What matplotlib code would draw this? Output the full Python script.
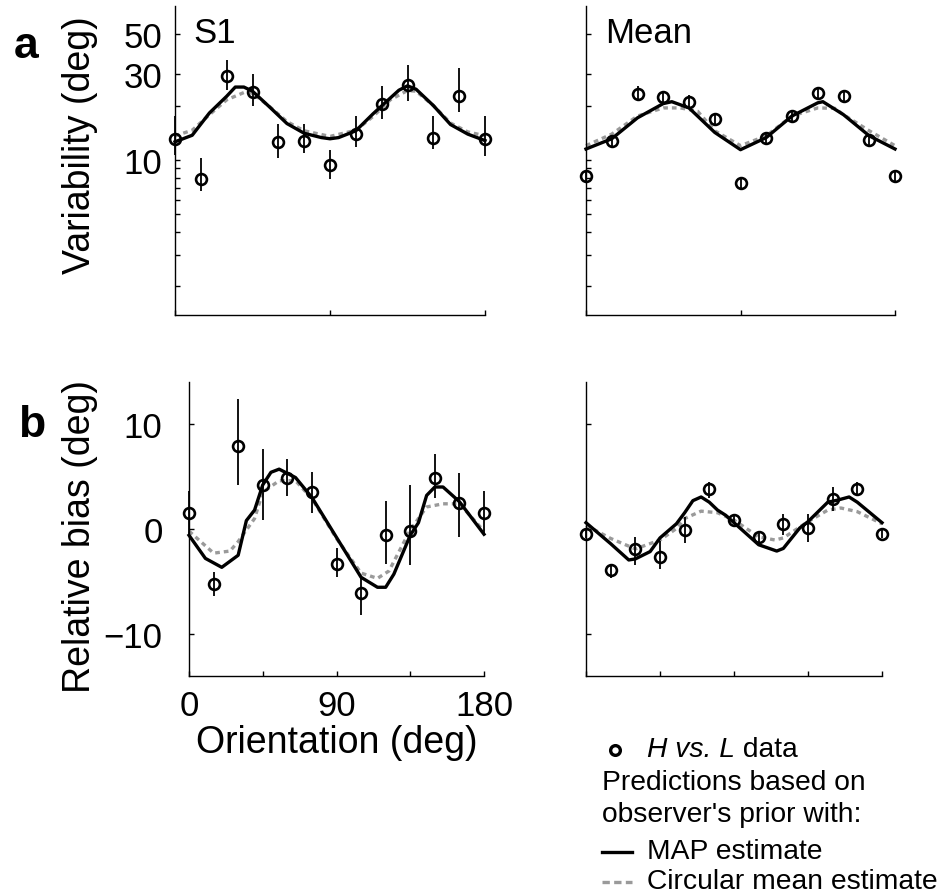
import numpy as np
import matplotlib
matplotlib.use("Agg")
import matplotlib.pyplot as plt
from matplotlib.lines import Line2D
from matplotlib.ticker import NullFormatter

plt.rcParams["font.family"] = ["Liberation Sans", "DejaVu Sans"]

# ── data ──────────────────────────────────────────────────────────────────────
ORIENT = [0, 15, 30, 45, 60, 75, 90, 105, 120, 135, 150, 165, 180]

# a) variability, subject S1
s1_var = [13.0, 7.9, 29.3, 23.8, 12.6, 12.7, 9.4, 14.0, 20.3, 26.1, 13.2, 22.5, 13.0]
s1_var_lo = [10.6, 6.7, 24.4, 20.0, 10.3, 10.9, 7.9, 11.8, 16.9, 21.1, 11.5, 18.4, 10.5]
s1_var_hi = [17.6, 10.3, 35.9, 29.9, 15.9, 15.9, 11.3, 17.6, 25.7, 33.7, 17.5, 32.1, 17.6]
s1_var_map_x = [0, 10, 20, 30, 35, 40, 45, 55, 65, 75, 85, 90, 95, 105, 115, 125,
                130, 135, 140, 150, 160, 170, 180]
s1_var_map = [12.6, 13.7, 18.2, 22.5, 25.3, 25.3, 24.0, 19.6, 15.9, 14.05, 13.3, 13.1,
              13.3, 14.5, 18.0, 22.0, 24.3, 25.7, 24.6, 20.0, 15.7, 13.9, 12.8]
s1_var_circ_x = [0, 10, 20, 30, 40, 45, 55, 65, 75, 90, 105, 115, 125, 135, 140, 150,
                 160, 170, 180]
s1_var_circ = [13.6, 14.6, 17.8, 21.5, 23.6, 23.4, 19.7, 16.3, 14.5, 13.5, 14.6, 17.4,
               21.5, 24.2, 24.0, 20.0, 16.0, 14.3, 13.6]

# a) variability, mean over subjects
mean_var = [8.2, 12.75, 23.2, 22.4, 21.0, 16.9, 7.46, 13.2, 17.5, 23.6, 22.6, 12.9, 8.2]
mean_var_lo = [7.7, 12.0, 21.7, 20.7, 19.6, 15.7, 7.0, 12.4, 16.4, 21.7, 20.7, 12.1, 7.7]
mean_var_hi = [8.7, 13.6, 25.7, 24.2, 22.9, 18.1, 7.9, 14.2, 18.8, 25.3, 24.2, 13.7, 8.7]
mean_var_map_x = [0, 15, 30, 45, 50, 60, 75, 90, 105, 120, 135, 138, 150, 165, 180]
mean_var_map = [11.5, 13.1, 17.1, 20.5, 21.0, 19.4, 14.2, 11.4, 13.3, 17.5, 20.7, 21.0,
                17.8, 13.6, 11.5]
mean_var_circ_x = [0, 15, 30, 45, 55, 65, 75, 90, 105, 120, 135, 145, 150, 165, 180]
mean_var_circ = [12.0, 13.9, 17.5, 19.4, 19.4, 18.6, 14.5, 12.0, 13.6, 17.5, 19.4, 19.3,
                 17.8, 14.5, 12.0]

# b) relative bias, subject S1
s1_bias = [1.5, -5.2, 7.9, 4.2, 4.9, 3.5, -3.3, -6.1, -0.6, -0.2, 4.9, 2.5, 1.5]
s1_bias_lo = [-0.6, -6.4, 4.2, 0.9, 3.1, 1.5, -4.6, -8.2, -3.3, -3.4, 3.0, -0.8, -0.6]
s1_bias_hi = [3.6, -4.1, 12.4, 7.6, 6.7, 5.4, -1.8, -4.5, 2.7, 4.2, 7.1, 5.3, 3.6]
s1_bias_map_x = [0, 10, 20, 30, 35, 40, 45, 50, 55, 65, 75, 90, 105, 115, 120, 125,
                 135, 140, 145, 150, 155, 165, 180]
s1_bias_map = [-0.6, -2.8, -3.65, -2.5, 0.8, 1.8, 4.2, 5.4, 5.7, 4.9, 3.0, -0.8, -4.6,
               -5.55, -5.55, -4.3, -0.6, 0.6, 3.2, 4.0, 4.0, 2.6, -0.5]
s1_bias_circ_x = [0, 15, 25, 30, 40, 45, 55, 65, 75, 90, 105, 115, 122, 135, 145, 155,
                  165, 180]
s1_bias_circ = [-0.2, -2.3, -2.1, -1.2, 1.0, 3.5, 4.6, 4.6, 2.9, -0.9, -4.2, -4.7, -4.0,
                -0.1, 2.1, 2.4, 2.4, -0.2]

# b) relative bias, mean over subjects
mean_bias = [-0.5, -3.9, -1.9, -2.7, -0.1, 3.8, 0.9, -0.8, 0.5, 0.1, 2.9, 3.8, -0.5]
mean_bias_lo = [-0.9, -4.7, -3.4, -3.8, -1.3, 3.0, 0.5, -1.4, -0.6, -1.2, 1.7, 3.1, -0.9]
mean_bias_hi = [-0.1, -3.4, -0.8, -1.1, 1.1, 4.5, 1.3, -0.3, 1.4, 1.4, 4.0, 4.5, -0.1]
mean_bias_map_x = [0, 15, 26, 30, 39, 45, 55, 60, 65, 70, 75, 80, 85, 90, 105, 116, 120,
                   130, 135, 147, 153, 160, 165, 180]
mean_bias_map = [0.6, -1.4, -2.95, -2.85, -2.15, -0.85, 0.5, 1.55, 2.7, 3.05, 2.55, 1.8,
                 1.3, 0.6, -1.5, -2.1, -1.85, 0.1, 0.7, 2.55, 2.75, 3.05, 2.55, 0.6]
mean_bias_circ_x = [0, 15, 30, 45, 55, 60, 70, 80, 90, 105, 115, 120, 135, 147, 155, 165,
                    180]
mean_bias_circ = [0.35, -0.9, -1.9, -1.05, 0.05, 1.0, 1.7, 1.55, 0.85, -0.75, -1.05,
                  -0.85, 0.7, 1.8, 2.0, 1.65, 0.5]

VAR_TICKS = [10, 30, 50]
VAR_MINOR = [2, 3, 4, 5, 6, 7, 8, 9, 20]
BIAS_TICKS = [-10, 0, 10]
BIAS_TICKLABELS = ["\u221210", "0", "10"]

# ── style ─────────────────────────────────────────────────────────────────────
W, H = 947, 895
GREY = "#9a9a9a"
LW = 2.4
DASH = (0, (1.4, 1.2))
TICK_FS = 25
LABEL_FS = 27
LEG_FS = 20.3


def _rect(x0, x1, y0, y1):
    # pixel box (top-left origin) -> figure fraction
    return [x0 / W, 1 - y1 / H, (x1 - x0) / W, (y1 - y0) / H]


def _fy(y):
    return 1 - y / H


def _style(ax, ypad):
    for s in ("top", "right"):
        ax.spines[s].set_visible(False)
    for s in ("left", "bottom"):
        ax.spines[s].set_linewidth(1.0)
    ax.tick_params(which="both", direction="in", length=3.5, width=1.0,
                   labelsize=TICK_FS, top=False, right=False)
    ax.tick_params(axis="y", which="both", pad=ypad)
    ax.tick_params(axis="x", which="both", pad=9)
    ax.set_xlim(0, 180)


def _panel(ax, y, lo, hi, map_x, map_y, circ_x, circ_y):
    ax.plot(circ_x, circ_y, color=GREY, lw=LW, ls=DASH, zorder=2, clip_on=False)
    ax.plot(map_x, map_y, color="black", lw=LW, zorder=3, clip_on=False)
    yerr = [np.subtract(y, lo), np.subtract(hi, y)]
    ax.errorbar(ORIENT, y, yerr=yerr, fmt="o", ms=7.8, mfc="none", mec="black",
                mew=1.9, ecolor="black", elinewidth=1.3, capsize=0, zorder=4,
                clip_on=False)


fig = plt.figure(figsize=(W / 100, H / 100), dpi=100)

ax_a1 = fig.add_axes(_rect(175, 485, 7, 316))
ax_a2 = fig.add_axes(_rect(586, 895, 7, 316))
ax_b1 = fig.add_axes(_rect(189, 484, 383, 677))
ax_b2 = fig.add_axes(_rect(586, 882, 383, 677))

_panel(ax_a1, s1_var, s1_var_lo, s1_var_hi, s1_var_map_x, s1_var_map,
       s1_var_circ_x, s1_var_circ)
_panel(ax_a2, mean_var, mean_var_lo, mean_var_hi, mean_var_map_x, mean_var_map,
       mean_var_circ_x, mean_var_circ)
_panel(ax_b1, s1_bias, s1_bias_lo, s1_bias_hi, s1_bias_map_x, s1_bias_map,
       s1_bias_circ_x, s1_bias_circ)
_panel(ax_b2, mean_bias, mean_bias_lo, mean_bias_hi, mean_bias_map_x, mean_bias_map,
       mean_bias_circ_x, mean_bias_circ)

# top row: log variability
for ax, show in ((ax_a1, True), (ax_a2, False)):
    ax.set_yscale("log")
    ax.set_ylim(1.39, 71)
    _style(ax, 9)
    ax.set_yticks(VAR_TICKS)
    ax.set_yticklabels([str(v) for v in VAR_TICKS] if show else [])
    ax.set_yticks(VAR_MINOR, minor=True)
    ax.yaxis.set_minor_formatter(NullFormatter())
    ax.set_xticks([0, 90, 180])
    ax.set_xticklabels([])

# bottom row: relative bias
for ax, show in ((ax_b1, True), (ax_b2, False)):
    ax.set_ylim(-14, 14)
    _style(ax, 19)
    ax.set_yticks(BIAS_TICKS)
    ax.set_yticklabels(BIAS_TICKLABELS if show else [])
    ax.set_xticks([0, 45, 90, 135, 180])
    ax.set_xticklabels(["0", "", "90", "", "180"] if show else [])

ax_a1.text(18 / 310, 0.883, "S1", transform=ax_a1.transAxes, fontsize=25,
           va="baseline", ha="left")
ax_a2.text(19 / 309, 0.883, "Mean", transform=ax_a2.transAxes, fontsize=25,
           va="baseline", ha="left")

# axis labels and panel letters
fig.text(80 / W, _fy(145), "Variability (deg)", rotation=90, fontsize=LABEL_FS,
         ha="center", va="center")
fig.text(80 / W, _fy(537), "Relative bias (deg)", rotation=90, fontsize=LABEL_FS,
         ha="center", va="center")
fig.text(337 / W, _fy(753), "Orientation (deg)", fontsize=LABEL_FS,
         ha="center", va="baseline")
fig.text(26 / W, _fy(58), "a", fontsize=32, weight="bold", ha="center",
         va="baseline")
fig.text(32 / W, _fy(437), "b", fontsize=32, weight="bold", ha="center",
         va="baseline")

# legend, drawn by hand
fig.add_artist(Line2D([615 / W], [_fy(751)], transform=fig.transFigure,
                      marker="o", ms=7, mfc="none", mec="black", mew=2.4, ls="none"))
hl = fig.text(647 / W, _fy(757), "H vs. L", fontsize=LEG_FS, style="italic",
              va="baseline", ha="left")
ax_a1.annotate(" data", xy=(1, 0), xycoords=hl, fontsize=LEG_FS, va="bottom",
               ha="left", annotation_clip=False)
fig.text(602 / W, _fy(790), "Predictions based on", fontsize=LEG_FS,
         va="baseline", ha="left")
fig.text(602 / W, _fy(822), "observer's prior with:", fontsize=LEG_FS,
         va="baseline", ha="left")
fig.add_artist(Line2D([602 / W, 632 / W], [_fy(853), _fy(853)],
                      transform=fig.transFigure, color="black", lw=LW))
fig.text(647 / W, _fy(859), "MAP estimate", fontsize=LEG_FS, va="baseline",
         ha="left")
fig.add_artist(Line2D([602 / W, 632 / W], [_fy(883), _fy(883)],
                      transform=fig.transFigure, color=GREY, lw=LW,
                      ls=(0, (2.2, 1.3))))
fig.text(647 / W, _fy(889), "Circular mean estimate", fontsize=LEG_FS,
         va="baseline", ha="left")

fig.savefig("out.png", dpi=100, facecolor="white")
